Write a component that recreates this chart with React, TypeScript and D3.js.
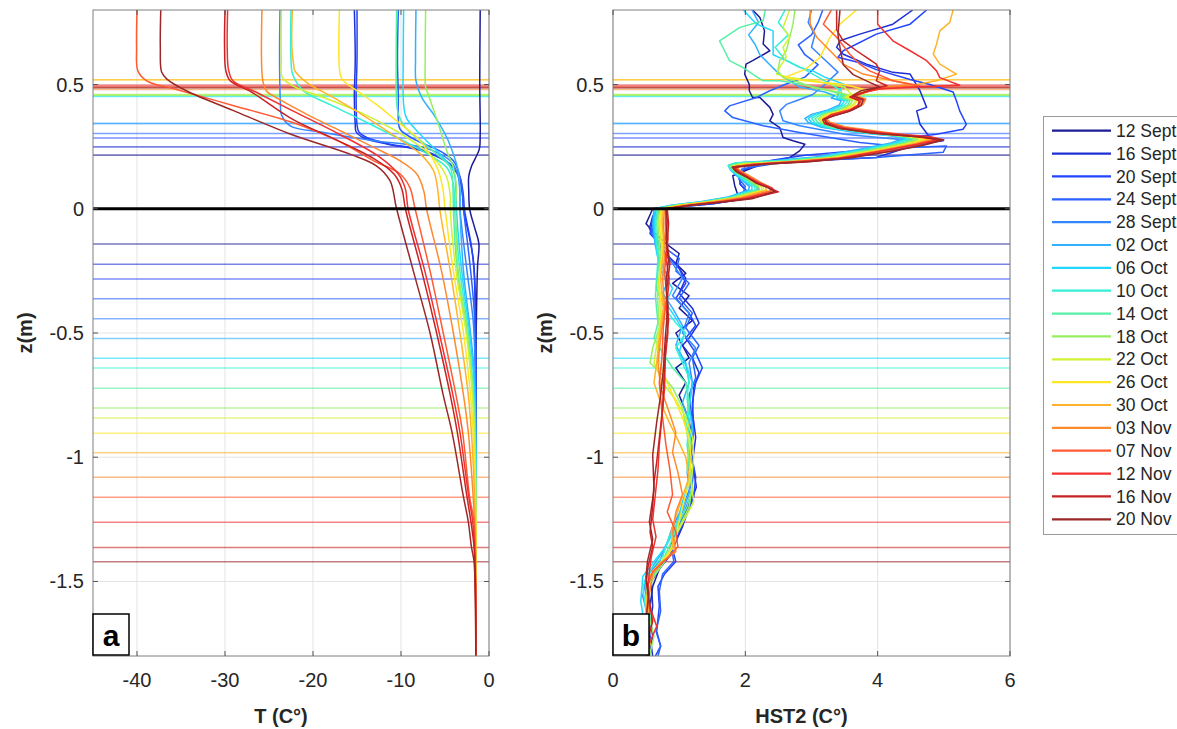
import React from "react";
import * as d3 from "d3";

type P = [number, number];

// ---------- categories ----------
const dates = ["12 Sept", "16 Sept", "20 Sept", "24 Sept", "28 Sept", "02 Oct", "06 Oct", "10 Oct", "14 Oct", "18 Oct", "22 Oct", "26 Oct", "30 Oct", "03 Nov", "07 Nov", "12 Nov", "16 Nov", "20 Nov"];
const snowSurface = [0.216, 0.249, 0.285, 0.303, 0.343, 0.343, 0.452, 0.455, 0.458, 0.46, 0.458, 0.519, 0.519, 0.48, 0.49, 0.497, 0.49, 0.486];
const iceBottom = [-0.142, -0.223, -0.283, -0.362, -0.443, -0.522, -0.602, -0.641, -0.722, -0.802, -0.842, -0.903, -0.982, -1.081, -1.161, -1.262, -1.363, -1.421];
const tTicks = [-40, -30, -20, -10, 0];
const hTicks = [0, 2, 4, 6];
const zTicks = [-1.5, -1, -0.5, 0, 0.5];

// ---------- panel a: temperature profiles [T, z] ----------
const tSep12: P[] = [[-1.0,0.8],[-1.05,0.5],[-1.0,0.3],[-1.1,0.24],[-1.6,0.2],[-2.0,0.17],[-2.3,0.13],[-2.3,0.07],[-2.2,0],[-1.6,-0.08],[-1.15,-0.14],[-1.3,-0.23],[-1.4,-0.37],[-1.5,-0.6],[-1.5,-1.0],[-1.5,-1.8]];
const tSep16: P[] = [[-15.3,0.8],[-15.2,0.6],[-15.3,0.45],[-15.2,0.34],[-15.1,0.31],[-14.2,0.285],[-11.5,0.26],[-7.6,0.233],[-4.5,0.18],[-3.4,0.126],[-3.0,0.05],[-2.9,0],[-2.2,-0.12],[-1.8,-0.2],[-1.6,-0.3],[-1.5,-0.6],[-1.5,-1.8]];
const tSep20: P[] = [[-15.0,0.8],[-15.0,0.6],[-15.1,0.45],[-15.0,0.34],[-14.8,0.31],[-13.9,0.287],[-11.25,0.26],[-7.5,0.236],[-4.4,0.18],[-3.3,0.126],[-2.9,0.05],[-2.8,0],[-2.0,-0.15],[-1.7,-0.25],[-1.6,-0.35],[-1.5,-0.6],[-1.5,-1.8]];
const tSep24: P[] = [[-10.3,0.8],[-10.4,0.6],[-10.3,0.45],[-10.3,0.36],[-10.1,0.32],[-8.2,0.274],[-5.6,0.233],[-4.05,0.193],[-3.3,0.13],[-3.0,0.06],[-2.9,0],[-2.4,-0.15],[-2.0,-0.28],[-1.7,-0.4],[-1.6,-0.5],[-1.5,-0.8],[-1.5,-1.8]];
const tSep28: P[] = [[-23.75,0.8],[-23.8,0.6],[-23.7,0.42],[-23.6,0.38],[-22.6,0.334],[-18.8,0.307],[-13.1,0.274],[-7.5,0.247],[-4.4,0.193],[-3.5,0.13],[-3.3,0.05],[-3.3,0],[-2.5,-0.25],[-1.8,-0.45],[-1.6,-0.6],[-1.5,-0.9],[-1.5,-1.8]];
const tOct02: P[] = [[-8.3,0.8],[-8.35,0.6],[-8.3,0.515],[-7.65,0.448],[-6.3,0.38],[-4.8,0.287],[-4.05,0.22],[-3.5,0.153],[-3.3,0.06],[-3.3,0],[-2.9,-0.25],[-2.1,-0.5],[-1.7,-0.65],[-1.5,-0.9],[-1.5,-1.8]];
const tOct06: P[] = [[-9.7,0.8],[-9.75,0.6],[-9.7,0.42],[-9.4,0.367],[-8.2,0.314],[-6.7,0.26],[-5.2,0.206],[-4.05,0.153],[-3.75,0.07],[-3.7,0],[-3.1,-0.25],[-2.2,-0.5],[-1.7,-0.7],[-1.6,-0.8],[-1.5,-1.0],[-1.5,-1.8]];
const tOct10: P[] = [[-22.5,0.8],[-22.5,0.6],[-22.3,0.54],[-21.1,0.475],[-18.1,0.42],[-15.0,0.367],[-12.0,0.314],[-9.0,0.26],[-6.3,0.206],[-4.8,0.166],[-4.05,0.1],[-3.9,0],[-3.3,-0.25],[-2.35,-0.5],[-1.75,-0.75],[-1.6,-0.85],[-1.5,-1.1],[-1.5,-1.8]];
const tOct14: P[] = [[-10.5,0.8],[-10.55,0.6],[-10.5,0.43],[-10.3,0.38],[-9.5,0.327],[-7.8,0.274],[-5.95,0.22],[-4.4,0.166],[-4.1,0.08],[-4.05,0],[-3.6,-0.25],[-2.5,-0.5],[-1.8,-0.75],[-1.6,-0.9],[-1.5,-1.1],[-1.5,-1.8]];
const tOct18: P[] = [[-7.2,0.8],[-7.25,0.6],[-7.2,0.49],[-6.9,0.46],[-5.75,0.34],[-4.8,0.233],[-4.05,0.166],[-3.7,0.086],[-3.8,0],[-3.5,-0.25],[-2.45,-0.5],[-1.8,-0.75],[-1.6,-0.95],[-1.5,-1.2],[-1.5,-1.8]];
const tOct22: P[] = [[-23.6,0.8],[-23.6,0.6],[-23.5,0.53],[-22.3,0.495],[-18.8,0.448],[-15.0,0.394],[-11.25,0.327],[-8.2,0.26],[-6.0,0.193],[-4.8,0.126],[-4.4,0.05],[-4.4,0],[-3.75,-0.25],[-2.6,-0.5],[-1.9,-0.75],[-1.6,-1.0],[-1.5,-1.2],[-1.5,-1.8]];
const tOct26: P[] = [[-17.0,0.8],[-17.05,0.6],[-16.9,0.54],[-16.55,0.515],[-15.0,0.475],[-12.8,0.42],[-10.5,0.354],[-8.2,0.287],[-6.7,0.22],[-5.75,0.153],[-5.2,0.07],[-5.0,0],[-4.05,-0.25],[-2.9,-0.5],[-2.1,-0.75],[-1.8,-0.9],[-1.65,-1.05],[-1.5,-1.3],[-1.5,-1.8]];
const tOct30: P[] = [[-22.35,0.8],[-22.4,0.65],[-22.2,0.58],[-22.05,0.555],[-20.7,0.508],[-17.7,0.448],[-13.9,0.367],[-10.5,0.287],[-7.8,0.22],[-6.3,0.153],[-5.8,0.07],[-5.6,0],[-4.4,-0.25],[-3.3,-0.5],[-2.35,-0.75],[-2.0,-0.9],[-1.7,-1.1],[-1.5,-1.35],[-1.5,-1.8]];
const tNov03: P[] = [[-25.8,0.8],[-25.85,0.6],[-25.7,0.515],[-25.3,0.475],[-23.8,0.44],[-20.7,0.38],[-16.9,0.314],[-13.1,0.247],[-10.1,0.193],[-8.2,0.14],[-7.4,0.07],[-7.1,0],[-5.4,-0.25],[-4.05,-0.5],[-2.9,-0.75],[-2.35,-0.9],[-1.8,-1.16],[-1.6,-1.3],[-1.5,-1.5],[-1.5,-1.8]];
const tNov07: P[] = [[-40.0,0.8],[-40.05,0.65],[-39.9,0.555],[-38.9,0.515],[-35.5,0.48],[-29.0,0.415],[-22.3,0.347],[-17.0,0.27],[-13.1,0.193],[-10.1,0.14],[-9.0,0.086],[-8.4,0],[-6.7,-0.25],[-5.2,-0.5],[-3.75,-0.75],[-3.0,-0.9],[-2.2,-1.16],[-1.7,-1.26],[-1.6,-1.4],[-1.5,-1.6],[-1.5,-1.8]];
const tNov12: P[] = [[-29.7,0.8],[-29.75,0.65],[-29.6,0.56],[-29.1,0.515],[-26.5,0.47],[-22.3,0.394],[-17.0,0.3],[-12.5,0.21],[-10.3,0.14],[-9.5,0.08],[-9.2,0],[-7.3,-0.25],[-5.65,-0.5],[-4.1,-0.75],[-3.3,-0.9],[-2.3,-1.16],[-1.85,-1.26],[-1.65,-1.36],[-1.5,-1.6],[-1.5,-1.8]];
const tNov16: P[] = [[-30.0,0.8],[-30.05,0.65],[-29.9,0.555],[-29.4,0.515],[-27.0,0.47],[-22.3,0.36],[-17.5,0.28],[-13.0,0.2],[-10.8,0.14],[-9.9,0.08],[-9.5,0],[-7.65,-0.25],[-5.95,-0.5],[-4.4,-0.75],[-3.6,-0.9],[-2.5,-1.16],[-2.05,-1.26],[-1.7,-1.36],[-1.55,-1.5],[-1.5,-1.8]];
const tNov20: P[] = [[-37.3,0.8],[-37.35,0.65],[-37.2,0.55],[-36.6,0.522],[-34.4,0.475],[-29.1,0.396],[-22.6,0.301],[-15.8,0.22],[-12.8,0.173],[-11.25,0.113],[-10.5,0],[-8.6,-0.25],[-6.7,-0.5],[-5.2,-0.75],[-4.2,-0.9],[-2.9,-1.16],[-2.35,-1.26],[-2.0,-1.36],[-1.7,-1.42],[-1.55,-1.6],[-1.5,-1.8]];

// ---------- panel b: HST2 profiles [HST2, z] ----------
const hSep12: P[] = [[2.11,0.8],[2.22,0.77],[2.29,0.716],[2.27,0.663],[2.37,0.636],[2.11,0.596],[2.01,0.582],[1.99,0.542],[2.06,0.5],[2.06,0.475],[2.11,0.448],[2.22,0.448],[2.37,0.408],[2.42,0.38],[2.37,0.354],[2.52,0.327],[2.57,0.287],[2.72,0.274],[2.9,0.26],[2.82,0.233],[2.67,0.206],[2.47,0.193],[2.2,0.175],[1.81,0.133],[1.84,0.093],[1.89,0.052],[1.31,0.02],[0.6,0],[0.55,-0.03],[0.5,-0.06],[0.6,-0.09],[0.8,-0.14],[1.0,-0.18],[0.95,-0.22],[1.1,-0.26],[0.9,-0.3],[1.15,-0.35],[1.0,-0.4],[1.2,-0.45],[0.95,-0.5],[1.05,-0.55],[1.15,-0.6],[0.95,-0.64],[1.1,-0.7],[1.0,-0.75],[1.15,-0.85],[1.2,-0.95],[1.15,-1.05],[1.2,-1.15],[1.1,-1.22],[0.95,-1.3],[0.85,-1.38],[0.7,-1.45],[0.6,-1.52],[0.55,-1.62],[0.6,-1.72],[0.55,-1.8]];
const hSep16: P[] = [[4.53,0.8],[4.23,0.743],[3.73,0.703],[3.43,0.676],[3.38,0.65],[3.48,0.622],[3.83,0.582],[4.23,0.549],[4.49,0.542],[4.64,0.475],[4.74,0.408],[4.59,0.394],[4.64,0.34],[4.79,0.287],[4.99,0.274],[4.6,0.26],[3.98,0.206],[2.98,0.193],[2.27,0.18],[1.92,0.153],[1.92,0.1],[2.11,0.045],[1.51,0.02],[0.68,0],[0.6,-0.03],[0.55,-0.08],[0.66,-0.12],[0.75,-0.17],[0.95,-0.22],[1.1,-0.28],[1.0,-0.34],[1.2,-0.4],[1.3,-0.46],[1.15,-0.52],[1.05,-0.55],[1.2,-0.6],[1.3,-0.66],[1.22,-0.72],[1.2,-0.82],[1.25,-0.92],[1.2,-1.02],[1.26,-1.12],[1.15,-1.2],[1.05,-1.28],[0.95,-1.34],[0.85,-1.4],[0.7,-1.45],[0.58,-1.5],[0.6,-1.6],[0.55,-1.7],[0.6,-1.8]];
const hSep20: P[] = [[4.74,0.8],[4.49,0.743],[3.98,0.703],[3.48,0.636],[3.4,0.61],[3.7,0.59],[3.98,0.56],[4.49,0.52],[4.79,0.5],[5.14,0.47],[5.19,0.435],[5.24,0.394],[5.34,0.34],[5.29,0.32],[4.89,0.3],[4.4,0.285],[4.6,0.27],[4.3,0.25],[3.6,0.232],[2.9,0.215],[2.4,0.195],[2.1,0.17],[1.92,0.15],[1.92,0.1],[2.11,0.045],[1.51,0.02],[0.7,0],[0.6,-0.04],[0.56,-0.1],[0.7,-0.14],[0.8,-0.18],[1.0,-0.24],[1.1,-0.3],[0.95,-0.36],[1.15,-0.42],[1.25,-0.47],[1.1,-0.52],[1.25,-0.58],[1.35,-0.64],[1.25,-0.7],[1.2,-0.78],[1.22,-0.88],[1.18,-0.98],[1.25,-1.08],[1.22,-1.16],[1.1,-1.24],[1.0,-1.3],[0.9,-1.37],[0.95,-1.42],[0.78,-1.47],[0.68,-1.52],[0.7,-1.6],[0.66,-1.7],[0.72,-1.76],[0.64,-1.8]];
const hSep24: P[] = [[3.17,0.8],[3.1,0.75],[3.0,0.7],[2.8,0.66],[2.9,0.62],[3.1,0.58],[2.9,0.53],[2.6,0.5],[2.37,0.475],[2.17,0.448],[1.76,0.414],[1.69,0.394],[1.81,0.367],[2.27,0.334],[2.82,0.307],[2.98,0.3],[3.73,0.267],[4.49,0.247],[5.04,0.253],[4.99,0.227],[3.98,0.206],[2.98,0.193],[2.4,0.18],[1.95,0.16],[1.9,0.12],[2.0,0.09],[1.95,0.05],[1.4,0.022],[0.72,0],[0.62,-0.04],[0.58,-0.1],[0.75,-0.15],[1.0,-0.2],[0.95,-0.25],[1.15,-0.3],[1.0,-0.36],[1.2,-0.42],[1.1,-0.48],[1.3,-0.55],[1.2,-0.6],[1.25,-0.68],[1.15,-0.75],[1.2,-0.85],[1.15,-0.95],[1.22,-1.05],[1.18,-1.15],[1.05,-1.24],[0.95,-1.3],[0.88,-1.36],[0.92,-1.42],[0.75,-1.47],[0.7,-1.54],[0.72,-1.62],[0.65,-1.7],[0.72,-1.76],[0.68,-1.8]];
const hSep28: P[] = [[3.0,0.8],[2.95,0.75],[3.05,0.7],[3.0,0.65],[3.2,0.6],[3.4,0.55],[3.2,0.5],[3.02,0.46],[2.77,0.435],[2.62,0.42],[2.52,0.394],[2.57,0.354],[2.82,0.334],[3.5,0.3],[4.3,0.28],[4.75,0.265],[4.3,0.24],[3.4,0.215],[2.6,0.19],[2.0,0.17],[1.9,0.14],[2.1,0.11],[2.2,0.08],[2.0,0.05],[1.5,0.025],[0.75,0],[0.65,-0.04],[0.6,-0.1],[0.7,-0.16],[0.9,-0.22],[1.05,-0.28],[0.9,-0.35],[1.15,-0.42],[1.05,-0.5],[1.25,-0.56],[1.15,-0.62],[1.2,-0.7],[1.15,-0.8],[1.22,-0.9],[1.15,-1.0],[1.2,-1.1],[1.05,-1.2],[0.9,-1.28],[0.8,-1.36],[0.7,-1.42],[0.5,-1.48],[0.45,-1.56],[0.55,-1.66],[0.5,-1.74],[0.55,-1.8]];
const hOct02: P[] = [[2.1,0.8],[2.2,0.75],[2.05,0.7],[2.15,0.66],[2.22,0.62],[2.37,0.58],[2.52,0.54],[2.82,0.49],[3.2,0.47],[3.35,0.455],[3.3,0.446],[3.45,0.435],[3.42,0.418],[3.25,0.398],[3.0,0.38],[2.9,0.364],[2.95,0.347],[3.15,0.328],[3.6,0.31],[4.2,0.294],[4.4,0.284],[4.2,0.265],[3.65,0.236],[3.05,0.208],[2.45,0.194],[1.88,0.185],[1.76,0.175],[1.78,0.155],[1.88,0.13],[1.98,0.108],[2.06,0.09],[2.05,0.076],[1.72,0.046],[1.32,0.028],[0.88,0.014],[0.62,0],[0.6,-0.06],[0.64,-0.15],[0.72,-0.22],[0.85,-0.28],[0.75,-0.34],[0.9,-0.4],[1.05,-0.47],[0.95,-0.55],[1.1,-0.62],[1.15,-0.7],[1.05,-0.78],[1.15,-0.86],[1.18,-0.96],[1.12,-1.06],[1.16,-1.14],[1.05,-1.22],[0.9,-1.3],[0.75,-1.38],[0.6,-1.44],[0.48,-1.5],[0.52,-1.62],[0.47,-1.72],[0.5,-1.8]];
const hOct06: P[] = [[1.97,0.8],[2.17,0.743],[2.42,0.716],[2.42,0.62],[2.62,0.596],[2.82,0.569],[3.02,0.555],[3.2,0.53],[3.5,0.5],[3.4,0.47],[3.4,0.455],[3.38,0.446],[3.5,0.435],[3.46,0.418],[3.3,0.398],[3.05,0.38],[2.95,0.364],[3.0,0.347],[3.2,0.328],[3.65,0.31],[4.25,0.293],[4.45,0.283],[4.25,0.264],[3.7,0.235],[3.1,0.207],[2.5,0.193],[1.85,0.184],[1.74,0.174],[1.78,0.154],[1.9,0.13],[2.0,0.108],[2.1,0.09],[2.1,0.076],[1.75,0.046],[1.35,0.028],[0.9,0.014],[0.64,0],[0.62,-0.06],[0.66,-0.18],[0.75,-0.26],[0.9,-0.32],[0.8,-0.38],[0.95,-0.44],[1.08,-0.5],[1.0,-0.58],[1.12,-0.64],[1.2,-0.7],[1.15,-0.8],[1.2,-0.88],[1.14,-0.98],[1.18,-1.08],[1.05,-1.18],[0.95,-1.28],[0.8,-1.36],[0.62,-1.42],[0.45,-1.48],[0.42,-1.58],[0.48,-1.68],[0.44,-1.8]];
const hOct10: P[] = [[2.6,0.8],[2.5,0.75],[2.65,0.7],[2.45,0.65],[2.6,0.6],[2.9,0.56],[3.1,0.53],[3.3,0.5],[3.45,0.475],[3.45,0.455],[3.42,0.446],[3.55,0.435],[3.5,0.418],[3.35,0.398],[3.1,0.38],[3.0,0.364],[3.05,0.347],[3.25,0.328],[3.7,0.31],[4.3,0.293],[4.5,0.283],[4.3,0.264],[3.75,0.235],[3.15,0.207],[2.55,0.193],[1.85,0.184],[1.75,0.174],[1.8,0.154],[1.92,0.13],[2.04,0.108],[2.14,0.09],[2.15,0.076],[1.78,0.046],[1.38,0.028],[0.92,0.014],[0.66,0],[0.64,-0.06],[0.68,-0.2],[0.65,-0.32],[0.78,-0.4],[0.95,-0.46],[1.1,-0.5],[0.95,-0.56],[1.05,-0.62],[1.15,-0.68],[1.12,-0.76],[1.15,-0.85],[1.12,-0.95],[1.16,-1.05],[1.1,-1.15],[1.0,-1.25],[0.85,-1.32],[0.75,-1.4],[0.58,-1.45],[0.45,-1.52],[0.5,-1.62],[0.45,-1.7],[0.5,-1.8]];
const hOct14: P[] = [[2.3,0.8],[2.27,0.757],[1.92,0.73],[1.61,0.676],[1.66,0.65],[1.76,0.596],[1.96,0.569],[2.11,0.542],[2.27,0.515],[2.52,0.515],[2.82,0.502],[3.2,0.48],[3.5,0.458],[3.45,0.448],[3.58,0.436],[3.55,0.418],[3.4,0.398],[3.15,0.38],[3.05,0.363],[3.1,0.347],[3.3,0.328],[3.75,0.309],[4.35,0.292],[4.55,0.282],[4.35,0.263],[3.8,0.234],[3.2,0.206],[2.6,0.192],[1.9,0.183],[1.76,0.173],[1.82,0.153],[1.95,0.13],[2.07,0.108],[2.17,0.09],[2.18,0.075],[1.8,0.045],[1.4,0.028],[0.95,0.014],[0.68,0],[0.66,-0.06],[0.7,-0.2],[0.64,-0.35],[0.68,-0.46],[0.62,-0.52],[0.75,-0.58],[0.9,-0.64],[1.1,-0.7],[1.15,-0.78],[1.1,-0.86],[1.18,-0.94],[1.15,-1.04],[1.2,-1.12],[1.12,-1.2],[1.0,-1.26],[0.88,-1.34],[0.78,-1.4],[0.65,-1.46],[0.5,-1.52],[0.58,-1.62],[0.52,-1.72],[0.56,-1.8]];
const hOct18: P[] = [[2.75,0.8],[2.72,0.743],[2.67,0.69],[2.62,0.636],[2.52,0.596],[2.49,0.555],[2.57,0.528],[2.82,0.508],[3.02,0.488],[3.4,0.47],[3.55,0.458],[3.48,0.448],[3.62,0.436],[3.58,0.418],[3.45,0.398],[3.2,0.38],[3.1,0.363],[3.15,0.347],[3.35,0.328],[3.8,0.309],[4.4,0.292],[4.62,0.282],[4.4,0.263],[3.85,0.234],[3.25,0.206],[2.65,0.191],[1.95,0.182],[1.78,0.172],[1.84,0.153],[1.98,0.13],[2.1,0.108],[2.2,0.09],[2.22,0.075],[1.82,0.045],[1.42,0.028],[0.98,0.014],[0.7,0],[0.68,-0.06],[0.72,-0.2],[0.67,-0.35],[0.7,-0.48],[0.6,-0.56],[0.56,-0.62],[0.72,-0.66],[0.9,-0.72],[1.05,-0.8],[1.1,-0.88],[1.15,-0.95],[1.12,-1.05],[1.2,-1.12],[1.15,-1.2],[1.0,-1.28],[0.9,-1.35],[0.78,-1.42],[0.62,-1.48],[0.5,-1.56],[0.55,-1.65],[0.62,-1.72],[0.55,-1.8]];
const hOct22: P[] = [[2.67,0.8],[2.57,0.73],[2.67,0.69],[2.57,0.65],[2.62,0.61],[2.52,0.57],[2.47,0.542],[2.67,0.528],[3.02,0.515],[3.5,0.49],[3.6,0.462],[3.52,0.45],[3.68,0.437],[3.62,0.418],[3.48,0.398],[3.22,0.38],[3.12,0.362],[3.18,0.346],[3.38,0.328],[3.85,0.308],[4.45,0.291],[4.7,0.281],[4.45,0.262],[3.9,0.233],[3.3,0.205],[2.7,0.19],[2.0,0.181],[1.8,0.171],[1.86,0.152],[2.0,0.13],[2.12,0.108],[2.24,0.09],[2.25,0.074],[1.85,0.044],[1.45,0.028],[1.0,0.014],[0.72,0],[0.7,-0.06],[0.74,-0.18],[0.69,-0.3],[0.72,-0.45],[0.66,-0.55],[0.62,-0.62],[0.75,-0.7],[0.95,-0.77],[1.1,-0.84],[1.2,-0.92],[1.22,-1.0],[1.18,-1.1],[1.22,-1.18],[1.1,-1.24],[0.98,-1.3],[0.85,-1.38],[0.7,-1.43],[0.55,-1.48],[0.5,-1.58],[0.53,-1.7],[0.5,-1.8]];
const hOct26: P[] = [[3.68,0.8],[3.43,0.743],[3.28,0.69],[3.13,0.61],[2.9,0.56],[2.6,0.53],[2.9,0.515],[3.5,0.5],[3.8,0.48],[3.65,0.462],[3.55,0.45],[3.7,0.437],[3.65,0.418],[3.5,0.398],[3.25,0.38],[3.15,0.362],[3.2,0.346],[3.4,0.328],[3.9,0.308],[4.5,0.291],[4.75,0.28],[4.5,0.262],[3.95,0.233],[3.35,0.205],[2.75,0.19],[2.05,0.18],[1.82,0.17],[1.88,0.152],[2.02,0.13],[2.15,0.108],[2.27,0.09],[2.28,0.074],[1.88,0.044],[1.48,0.028],[1.02,0.014],[0.74,0],[0.72,-0.06],[0.75,-0.16],[0.7,-0.3],[0.74,-0.42],[0.68,-0.55],[0.7,-0.62],[0.82,-0.7],[0.92,-0.76],[1.05,-0.84],[1.15,-0.92],[1.18,-1.0],[1.15,-1.1],[1.05,-1.2],[0.98,-1.28],[0.92,-1.36],[0.75,-1.42],[0.6,-1.46],[0.55,-1.55],[0.52,-1.65],[0.56,-1.75],[0.52,-1.8]];
const hOct30: P[] = [[5.14,0.8],[5.09,0.75],[4.94,0.716],[4.89,0.663],[4.84,0.622],[4.94,0.582],[5.19,0.542],[4.89,0.515],[4.49,0.495],[3.98,0.48],[3.7,0.462],[3.6,0.45],[3.75,0.438],[3.72,0.418],[3.55,0.398],[3.3,0.38],[3.2,0.362],[3.25,0.346],[3.45,0.328],[3.95,0.308],[4.55,0.291],[4.8,0.28],[4.55,0.262],[4.0,0.233],[3.4,0.205],[2.8,0.19],[2.1,0.18],[1.84,0.17],[1.9,0.152],[2.05,0.13],[2.18,0.108],[2.3,0.09],[2.32,0.074],[1.9,0.044],[1.5,0.028],[1.05,0.014],[0.76,0],[0.74,-0.05],[0.77,-0.15],[0.72,-0.28],[0.76,-0.4],[0.7,-0.52],[0.66,-0.62],[0.62,-0.7],[0.72,-0.78],[0.85,-0.86],[0.98,-0.93],[1.1,-1.0],[1.15,-1.08],[1.05,-1.16],[0.95,-1.24],[0.88,-1.3],[0.92,-1.38],[0.7,-1.43],[0.55,-1.48],[0.5,-1.6],[0.54,-1.7],[0.5,-1.8]];
const hNov03: P[] = [[2.98,0.8],[2.98,0.743],[3.08,0.69],[3.28,0.636],[3.48,0.582],[3.78,0.542],[4.23,0.515],[4.5,0.5],[4.1,0.49],[3.85,0.472],[3.68,0.455],[3.82,0.442],[3.78,0.42],[3.62,0.4],[3.35,0.38],[3.22,0.364],[3.28,0.348],[3.5,0.33],[4.05,0.31],[4.6,0.292],[4.85,0.28],[4.6,0.263],[4.05,0.235],[3.45,0.206],[2.85,0.192],[2.15,0.18],[1.86,0.17],[1.92,0.153],[2.08,0.13],[2.22,0.108],[2.35,0.09],[2.38,0.073],[1.95,0.044],[1.55,0.028],[1.1,0.014],[0.78,0],[0.76,-0.06],[0.79,-0.16],[0.75,-0.28],[0.78,-0.4],[0.72,-0.52],[0.68,-0.62],[0.72,-0.72],[0.85,-0.82],[0.95,-0.9],[0.9,-0.98],[0.98,-1.06],[1.05,-1.15],[0.95,-1.22],[0.9,-1.3],[0.95,-1.38],[0.75,-1.42],[0.6,-1.47],[0.55,-1.55],[0.5,-1.65],[0.55,-1.75],[0.5,-1.8]];
const hNov07: P[] = [[3.3,0.8],[3.18,0.743],[3.38,0.69],[3.58,0.622],[3.73,0.582],[3.88,0.555],[4.23,0.515],[4.64,0.495],[4.1,0.485],[3.8,0.47],[3.65,0.452],[3.8,0.44],[3.75,0.418],[3.6,0.4],[3.3,0.38],[3.2,0.363],[3.25,0.346],[3.45,0.327],[4.0,0.307],[4.65,0.29],[4.9,0.279],[4.65,0.262],[4.1,0.233],[3.5,0.205],[2.9,0.19],[2.2,0.18],[1.85,0.17],[1.9,0.152],[2.05,0.128],[2.2,0.107],[2.35,0.088],[2.4,0.072],[2.0,0.043],[1.6,0.028],[1.15,0.014],[0.8,0],[0.79,-0.06],[0.82,-0.15],[0.78,-0.25],[0.81,-0.35],[0.76,-0.48],[0.74,-0.6],[0.7,-0.7],[0.74,-0.82],[0.8,-0.95],[0.86,-1.05],[0.9,-1.15],[0.82,-1.22],[0.95,-1.3],[0.98,-1.36],[0.85,-1.4],[0.72,-1.43],[0.6,-1.46],[0.52,-1.52],[0.55,-1.62],[0.5,-1.72],[0.54,-1.8]];
const hNov12: P[] = [[4.0,0.8],[4.0,0.743],[4.23,0.676],[4.49,0.636],[4.74,0.596],[4.89,0.555],[4.94,0.528],[5.24,0.497],[4.6,0.49],[4.0,0.482],[3.75,0.465],[3.6,0.45],[3.75,0.438],[3.72,0.42],[3.58,0.398],[3.3,0.378],[3.18,0.362],[3.25,0.345],[3.5,0.325],[4.1,0.305],[4.8,0.29],[4.95,0.28],[4.6,0.26],[4.0,0.23],[3.4,0.202],[2.8,0.19],[2.1,0.178],[1.83,0.168],[1.9,0.15],[2.05,0.125],[2.2,0.105],[2.4,0.085],[2.45,0.07],[2.0,0.042],[1.65,0.028],[1.1,0.012],[0.81,0],[0.8,-0.05],[0.83,-0.12],[0.8,-0.2],[0.85,-0.28],[0.81,-0.4],[0.83,-0.5],[0.79,-0.6],[0.78,-0.72],[0.74,-0.84],[0.7,-0.95],[0.68,-1.05],[0.64,-1.15],[0.6,-1.25],[0.65,-1.32],[0.58,-1.4],[0.55,-1.46],[0.52,-1.55],[0.58,-1.62],[0.66,-1.68],[0.55,-1.75],[0.52,-1.8]];
const hNov16: P[] = [[3.38,0.8],[3.38,0.72],[3.48,0.676],[3.68,0.636],[3.83,0.609],[3.98,0.582],[4.03,0.555],[3.98,0.515],[4.14,0.495],[3.9,0.48],[3.7,0.46],[3.58,0.45],[3.72,0.435],[3.7,0.41],[3.55,0.39],[3.3,0.372],[3.17,0.358],[3.2,0.342],[3.45,0.322],[4.0,0.303],[4.7,0.288],[4.95,0.276],[4.7,0.258],[4.2,0.232],[3.5,0.203],[2.9,0.188],[2.2,0.178],[1.82,0.165],[1.88,0.148],[2.05,0.125],[2.2,0.1],[2.35,0.085],[2.5,0.068],[2.05,0.04],[1.6,0.026],[1.15,0.013],[0.82,0],[0.84,-0.06],[0.82,-0.14],[0.86,-0.22],[0.81,-0.33],[0.84,-0.45],[0.8,-0.55],[0.77,-0.68],[0.75,-0.8],[0.71,-0.9],[0.66,-1.02],[0.62,-1.1],[0.6,-1.2],[0.56,-1.3],[0.6,-1.36],[0.53,-1.44],[0.5,-1.5],[0.56,-1.6],[0.6,-1.66],[0.52,-1.74],[0.55,-1.8]];
const hNov20: P[] = [[3.43,0.8],[3.4,0.7],[3.43,0.65],[3.48,0.58],[3.63,0.54],[3.83,0.515],[4.03,0.49],[3.75,0.475],[3.62,0.455],[3.78,0.44],[3.75,0.415],[3.6,0.395],[3.35,0.375],[3.2,0.36],[3.22,0.345],[3.4,0.325],[3.9,0.305],[4.6,0.29],[5.0,0.278],[4.75,0.26],[4.3,0.235],[3.6,0.205],[3.0,0.19],[2.3,0.18],[1.8,0.168],[1.85,0.152],[2.0,0.13],[2.15,0.105],[2.3,0.09],[2.45,0.07],[2.1,0.04],[1.7,0.028],[1.2,0.015],[0.8,0],[0.82,-0.05],[0.8,-0.12],[0.84,-0.2],[0.8,-0.3],[0.83,-0.39],[0.79,-0.52],[0.76,-0.65],[0.72,-0.75],[0.66,-0.86],[0.6,-0.99],[0.62,-1.13],[0.55,-1.26],[0.6,-1.33],[0.52,-1.42],[0.5,-1.48],[0.54,-1.55],[0.5,-1.65],[0.55,-1.72],[0.52,-1.8]];

const tempProfiles = [tSep12, tSep16, tSep20, tSep24, tSep28, tOct02, tOct06, tOct10, tOct14, tOct18, tOct22, tOct26, tOct30, tNov03, tNov07, tNov12, tNov16, tNov20];
const hstProfiles = [hSep12, hSep16, hSep20, hSep24, hSep28, hOct02, hOct06, hOct10, hOct14, hOct18, hOct22, hOct26, hOct30, hNov03, hNov07, hNov12, hNov16, hNov20];

// ---------- styles ----------
const seriesColors = ["#1c1c96", "#1f2fd6", "#2244ff", "#2a62ff", "#3585ff", "#30b0ff", "#22d8ff", "#35f0d5", "#55f0a5", "#95ef60", "#cff233", "#ffe524", "#ffb32a", "#ff8a2e", "#ff5a32", "#f23030", "#c82222", "#9a2828"];
const FONT = "'Liberation Sans', Arial, Helvetica, sans-serif";

const Y0 = 10, Y1 = 656;
const yScale = d3.scaleLinear().domain([-1.8, 0.8]).range([Y1, Y0]);
const xA = d3.scaleLinear().domain([-45, 0]).range([93, 489]);
const xB = d3.scaleLinear().domain([0, 6]).range([613, 1010]);

function Panel({ x, ticks, profiles, curve, id, label, title, fmt }: any) {
  const [l, r] = x.range();
  const line = d3.line<P>().x(d => x(d[0])).y(d => yScale(d[1])).curve(curve);
  return (
    <g>
      <defs>
        <clipPath id={id}><rect x={l} y={Y0} width={r - l} height={Y1 - Y0} /></clipPath>
      </defs>
      <rect x={l} y={Y0} width={r - l} height={Y1 - Y0} fill="#fff" />
      {ticks.map((t: number) => (
        <line key={"gx" + t} x1={x(t)} x2={x(t)} y1={Y0} y2={Y1} stroke="#e3e3e3" strokeWidth={1} />
      ))}
      {zTicks.map(t => (
        <line key={"gy" + t} x1={l} x2={r} y1={yScale(t)} y2={yScale(t)} stroke="#e3e3e3" strokeWidth={1} />
      ))}
      <g clipPath={`url(#${id})`}>
        {snowSurface.map((z, i) => (
          <line key={"s" + i} x1={l} x2={r} y1={yScale(z)} y2={yScale(z)} stroke={seriesColors[i]} strokeOpacity={0.6} strokeWidth={1.6} />
        ))}
        {iceBottom.map((z, i) => (
          <line key={"b" + i} x1={l} x2={r} y1={yScale(z)} y2={yScale(z)} stroke={seriesColors[i]} strokeOpacity={0.6} strokeWidth={1.5} />
        ))}
        {profiles.map((p: P[], i: number) => (
          <path key={"p" + i} d={line(p) || ""} fill="none" stroke={seriesColors[i]} strokeWidth={1.5} strokeLinejoin="round" />
        ))}
        <line x1={l} x2={r} y1={yScale(0)} y2={yScale(0)} stroke="#000" strokeWidth={3} />
      </g>
      <rect x={l} y={Y0} width={r - l} height={Y1 - Y0} fill="none" stroke="#808080" strokeWidth={1} />
      {ticks.map((t: number) => (
        <g key={"tx" + t}>
          <line x1={x(t)} x2={x(t)} y1={Y1} y2={Y1 - 5} stroke="#555" />
          <line x1={x(t)} x2={x(t)} y1={Y0} y2={Y0 + 5} stroke="#555" />
          <text x={x(t)} y={687} textAnchor="middle" fontFamily={FONT} fontSize={20} fill="#262626">{fmt(t)}</text>
        </g>
      ))}
      {zTicks.map(t => (
        <g key={"ty" + t}>
          <line x1={l} x2={l + 5} y1={yScale(t)} y2={yScale(t)} stroke="#555" />
          <line x1={r} x2={r - 5} y1={yScale(t)} y2={yScale(t)} stroke="#555" />
          <text x={l - 9} y={yScale(t)} dy="0.35em" textAnchor="end" fontFamily={FONT} fontSize={20} fill="#262626">{t}</text>
        </g>
      ))}
      <text x={(l + r) / 2 - 10} y={723} textAnchor="middle" fontFamily={FONT} fontWeight="bold" fontSize={20} fill="#262626">{title}</text>
      <text transform={`translate(${l - 61},${(Y0 + Y1) / 2}) rotate(-90)`} textAnchor="middle" fontFamily={FONT} fontWeight="bold" fontSize={20} fill="#262626">z(m)</text>
      <rect x={l} y={614} width={36} height={41} fill="#fff" stroke="#000" strokeWidth={1.5} />
      <text x={l + 18} y={646} textAnchor="middle" fontFamily={FONT} fontWeight="bold" fontSize={30} fill="#000">{label}</text>
    </g>
  );
}

export default function App() {
  const legendY = d3.scaleLinear().domain([0, dates.length - 1]).range([130.7, 519.3]);
  return (
    <svg width={1177} height={729} style={{ position: "absolute", left: 0, top: 0, background: "#fff" }}>
      <rect x={0} y={0} width={1177} height={729} fill="#fff" />
      <Panel x={xA} ticks={tTicks} profiles={tempProfiles} curve={d3.curveCatmullRom.alpha(0.5)} id="clipA" label="a" title="T (C°)" fmt={(t: number) => String(t)} />
      <Panel x={xB} ticks={hTicks} profiles={hstProfiles} curve={d3.curveLinear} id="clipB" label="b" title="HST2 (C°)" fmt={(t: number) => String(t)} />
      <g>
        <rect x={1043.5} y={116.5} width={150} height={418} fill="#fff" stroke="#9a9a9a" strokeWidth={1} />
        {dates.map((d, i) => (
          <g key={d}>
            <line x1={1052} x2={1111} y1={legendY(i)} y2={legendY(i)} stroke={seriesColors[i]} strokeWidth={2.2} />
            <text x={1116} y={legendY(i)} dy="0.35em" fontFamily={FONT} fontSize={17.5} fill="#262626">{d}</text>
          </g>
        ))}
      </g>
    </svg>
  );
}
